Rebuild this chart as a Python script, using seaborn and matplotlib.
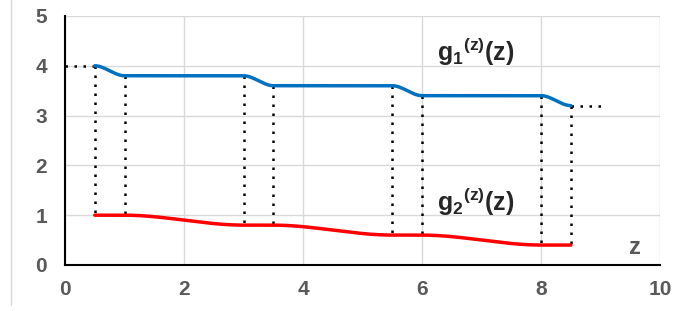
import numpy as np
import pandas as pd
import matplotlib
matplotlib.use('Agg')
import matplotlib.pyplot as plt
import seaborn as sns
from matplotlib.lines import Line2D

# data
z_pts = [0.5, 1.0, 3.0, 3.5, 5.5, 6.0, 8.0, 8.5]
g1_vals = [4.0, 3.8, 3.8, 3.6, 3.6, 3.4, 3.4, 3.2]
g2_vals = [1.0, 1.0, 0.8, 0.8, 0.6, 0.6, 0.4, 0.4]
x_ticks = [0, 2, 4, 6, 8, 10]
y_ticks = [0, 1, 2, 3, 4, 5]


def smooth(x, y, n=40):
    # monotone cubic (Fritsch-Carlson) to mimic a smoothed line
    x = np.asarray(x, float)
    y = np.asarray(y, float)
    h = np.diff(x)
    d = np.diff(y) / h
    m = np.zeros_like(y)
    for i in range(1, len(y) - 1):
        if d[i - 1] * d[i] > 0:
            w1 = 2 * h[i] + h[i - 1]
            w2 = h[i] + 2 * h[i - 1]
            m[i] = (w1 + w2) / (w1 / d[i - 1] + w2 / d[i])
    xs, ys = [], []
    t = np.linspace(0, 1, n)
    h00 = 2 * t ** 3 - 3 * t ** 2 + 1
    h10 = t ** 3 - 2 * t ** 2 + t
    h01 = -2 * t ** 3 + 3 * t ** 2
    h11 = t ** 3 - t ** 2
    for i in range(len(h)):
        xs.append(x[i] + t * h[i])
        ys.append(h00 * y[i] + h10 * h[i] * m[i] + h01 * y[i + 1] + h11 * h[i] * m[i + 1])
    return np.concatenate(xs), np.concatenate(ys)


sns.set_style('white')
plt.rcParams['font.family'] = ['Liberation Sans', 'DejaVu Sans']
plt.rcParams['mathtext.fontset'] = 'custom'
plt.rcParams['mathtext.rm'] = 'Liberation Sans:bold'
plt.rcParams['mathtext.bf'] = 'Liberation Sans:bold'
plt.rcParams['mathtext.it'] = 'Liberation Sans:bold'
plt.rcParams['mathtext.default'] = 'bf'

fig = plt.figure(figsize=(6.75, 3.11), dpi=100)
ax = fig.add_axes([0.0963, 0.148, 0.8817, 0.8006])

gx, gy = smooth(z_pts, g1_vals)
hx, hy = smooth(z_pts, g2_vals)
df1 = pd.DataFrame({'z': gx, 'g': gy})
df2 = pd.DataFrame({'z': hx, 'g': hy})

# dotted guides
dot = dict(color='black', linestyle=(0, (1, 2.6)), linewidth=1.8, zorder=2)
for xv, top, bot in zip(z_pts, g1_vals, g2_vals):
    ax.plot([xv, xv], [top, bot], **dot)
ax.plot([0, z_pts[0]], [g1_vals[0]] * 2, **dot)
ax.plot([z_pts[-1], 9], [g1_vals[-1]] * 2, **dot)

sns.lineplot(data=df1, x='z', y='g', color='#0070C0', linewidth=2.5,
             sort=False, ax=ax, zorder=3)
sns.lineplot(data=df2, x='z', y='g', color='#FF0000', linewidth=2.5,
             sort=False, ax=ax, zorder=3)

ax.set_xlim(0, 10)
ax.set_ylim(0, 5)
ax.set_xticks(x_ticks)
ax.set_yticks(y_ticks)
ax.grid(True, color='#d9d9d9', linewidth=1)
ax.set_axisbelow(True)
ax.set_xlabel('')
ax.set_ylabel('')
ax.tick_params(axis='y', length=0, labelsize=15, labelcolor='#595959', pad=13)
ax.tick_params(axis='x', length=0, labelsize=15, labelcolor='#595959', pad=11)
for lab in ax.get_xticklabels() + ax.get_yticklabels():
    lab.set_fontweight('bold')
for s in ['top', 'right']:
    ax.spines[s].set_visible(False)
for s in ['left', 'bottom']:
    ax.spines[s].set_color('black')
    ax.spines[s].set_linewidth(1.5)

ax.text(6.9, 4.27, r'$g_1{}^{(z)}(z)$', fontsize=18, color='#262626',
        ha='center', va='center')
ax.text(6.9, 1.27, r'$g_2{}^{(z)}(z)$', fontsize=18, color='#262626',
        ha='center', va='center')
ax.text(9.58, 0.36, 'z', fontsize=17, fontweight='bold', color='#595959',
        ha='center', va='center')

fig.add_artist(Line2D([11 / 675, 11 / 675], [0.02, 1.0], color='#d9d9d9',
                      linewidth=1, transform=fig.transFigure))

fig.savefig('out.png', dpi=100)
